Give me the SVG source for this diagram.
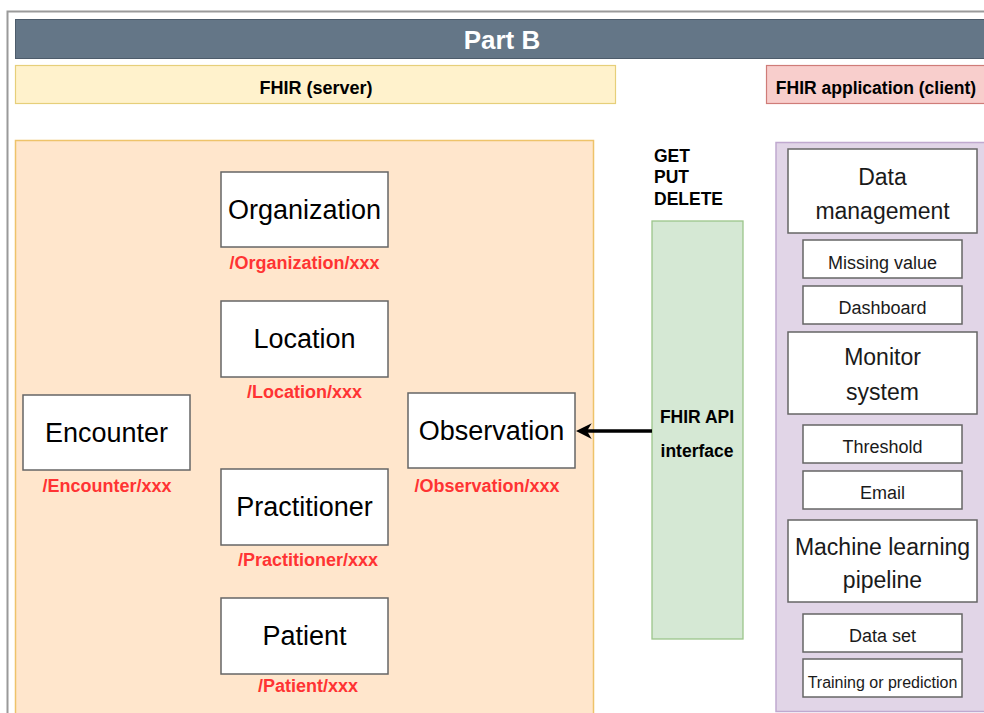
<svg xmlns="http://www.w3.org/2000/svg" width="984" height="713" viewBox="0 0 984 713">
  <style>
    text { font-family: "Liberation Sans", Arial, sans-serif; text-anchor: middle; dominant-baseline: central; }
    .box { fill: #ffffff; stroke: #666666; stroke-width: 1.5; }
    .res { font-size: 27px; fill: #000000; }
    .path { font-size: 18px; font-weight: bold; fill: #ff3333; }
    .big { font-size: 23px; fill: #1a1a1a; }
    .small { font-size: 18px; fill: #1a1a1a; }
    .bold { font-weight: bold; fill: #000000; }
  </style>
  <defs>
    <marker id="arrowHead" viewBox="0 0 10 10" refX="3" refY="5" markerWidth="4.5" markerHeight="4.5" orient="auto">
      <path d="M0,0 L10,5 L0,10 L3,5 Z" fill="#000000"/>
    </marker>
  </defs>

  <rect width="984" height="713" fill="#ffffff"/>

  <!-- outer frame -->
  <path d="M990,11.5 H7.5 V720" fill="none" stroke="#9a9a9a" stroke-width="2"/>

  <!-- title banner -->
  <g id="banner">
    <rect x="15.5" y="19.5" width="975" height="39" fill="#647687" stroke="#4d5c6b" stroke-width="1"/>
    <text x="502" y="40" font-size="26" font-weight="bold" fill="#ffffff">Part B</text>
  </g>

  <!-- section headers -->
  <g id="server-header">
    <rect x="15.5" y="65.5" width="600" height="38" fill="#fff2cc" stroke="#e6cf7a" stroke-width="1.2"/>
    <text x="316" y="88" font-size="18" class="bold">FHIR (server)</text>
  </g>
  <g id="client-header">
    <rect x="766.5" y="65.5" width="224" height="38" fill="#f8cecc" stroke="#cf7c78" stroke-width="1.2"/>
    <text x="876" y="88" font-size="17.5" class="bold">FHIR application (client)</text>
  </g>

  <!-- server container -->
  <g id="server">
    <rect x="15.5" y="140.5" width="578" height="575" fill="#ffe6cc" stroke="#eec36a" stroke-width="1.5"/>
  </g>

  <g id="organization">
    <rect class="box" x="221" y="172" width="167" height="75"/>
    <text class="res" x="304.5" y="210">Organization</text>
    <text class="path" x="304.5" y="263">/Organization/xxx</text>
  </g>
  <g id="location">
    <rect class="box" x="221" y="301" width="167" height="76"/>
    <text class="res" x="304.5" y="339">Location</text>
    <text class="path" x="304.5" y="392">/Location/xxx</text>
  </g>
  <g id="encounter">
    <rect class="box" x="23" y="395" width="167" height="75"/>
    <text class="res" x="106.5" y="433">Encounter</text>
    <text class="path" x="107" y="486">/Encounter/xxx</text>
  </g>
  <g id="observation">
    <rect class="box" x="408" y="393" width="167" height="75"/>
    <text class="res" x="491.5" y="431">Observation</text>
    <text class="path" x="487" y="486">/Observation/xxx</text>
  </g>
  <g id="practitioner">
    <rect class="box" x="221" y="469" width="167" height="76"/>
    <text class="res" x="304.5" y="507">Practitioner</text>
    <text class="path" x="308" y="560">/Practitioner/xxx</text>
  </g>
  <g id="patient">
    <rect class="box" x="221" y="598" width="167" height="76"/>
    <text class="res" x="304.5" y="636">Patient</text>
    <text class="path" x="308" y="686">/Patient/xxx</text>
  </g>

  <!-- HTTP verbs -->
  <g id="methods">
    <text x="654" y="156" font-size="17.5" class="bold" style="text-anchor:start">GET</text>
    <text x="654" y="177" font-size="17.5" class="bold" style="text-anchor:start">PUT</text>
    <text x="654" y="199" font-size="17.5" class="bold" style="text-anchor:start">DELETE</text>
  </g>

  <!-- API interface -->
  <g id="api">
    <rect x="652" y="221" width="91" height="418" fill="#d5e8d4" stroke="#9cc58a" stroke-width="1.3"/>
    <text x="697" y="417" font-size="17.5" class="bold">FHIR API</text>
    <text x="697" y="451" font-size="17.5" class="bold">interface</text>
  </g>

  <!-- client container -->
  <g id="client">
    <rect x="776" y="142.5" width="214" height="569" fill="#e1d5e7" stroke="#c0a9cf" stroke-width="1.5"/>
  </g>

  <g id="data-management">
    <rect class="box" x="788" y="149" width="189" height="84"/>
    <text class="big" x="882.5" y="177">Data</text>
    <text class="big" x="882.5" y="211">management</text>
  </g>
  <g id="missing-value">
    <rect class="box" x="803" y="240" width="159" height="38"/>
    <text class="small" x="882.5" y="263">Missing value</text>
  </g>
  <g id="dashboard">
    <rect class="box" x="803" y="286" width="159" height="38"/>
    <text class="small" x="882.5" y="308">Dashboard</text>
  </g>
  <g id="monitor-system">
    <rect class="box" x="788" y="332" width="189" height="82"/>
    <text class="big" x="882.5" y="357">Monitor</text>
    <text class="big" x="882.5" y="392">system</text>
  </g>
  <g id="threshold">
    <rect class="box" x="803" y="425" width="159" height="38"/>
    <text class="small" x="882.5" y="447">Threshold</text>
  </g>
  <g id="email">
    <rect class="box" x="803" y="471" width="159" height="38"/>
    <text class="small" x="882.5" y="493">Email</text>
  </g>
  <g id="ml-pipeline">
    <rect class="box" x="788" y="520" width="189" height="82"/>
    <text class="big" x="882.5" y="547">Machine learning</text>
    <text class="big" x="882.5" y="580">pipeline</text>
  </g>
  <g id="data-set">
    <rect class="box" x="803" y="614" width="159" height="38"/>
    <text class="small" x="882.5" y="636">Data set</text>
  </g>
  <g id="training">
    <rect class="box" x="803" y="659" width="159" height="38"/>
    <text x="882.5" y="682" font-size="16" fill="#1a1a1a">Training or prediction</text>
  </g>

  <!-- connectors -->
  <g id="connectors">
    <line x1="652" y1="431" x2="587" y2="431" stroke="#000000" stroke-width="3.5" marker-end="url(#arrowHead)"/>
  </g>
</svg>
